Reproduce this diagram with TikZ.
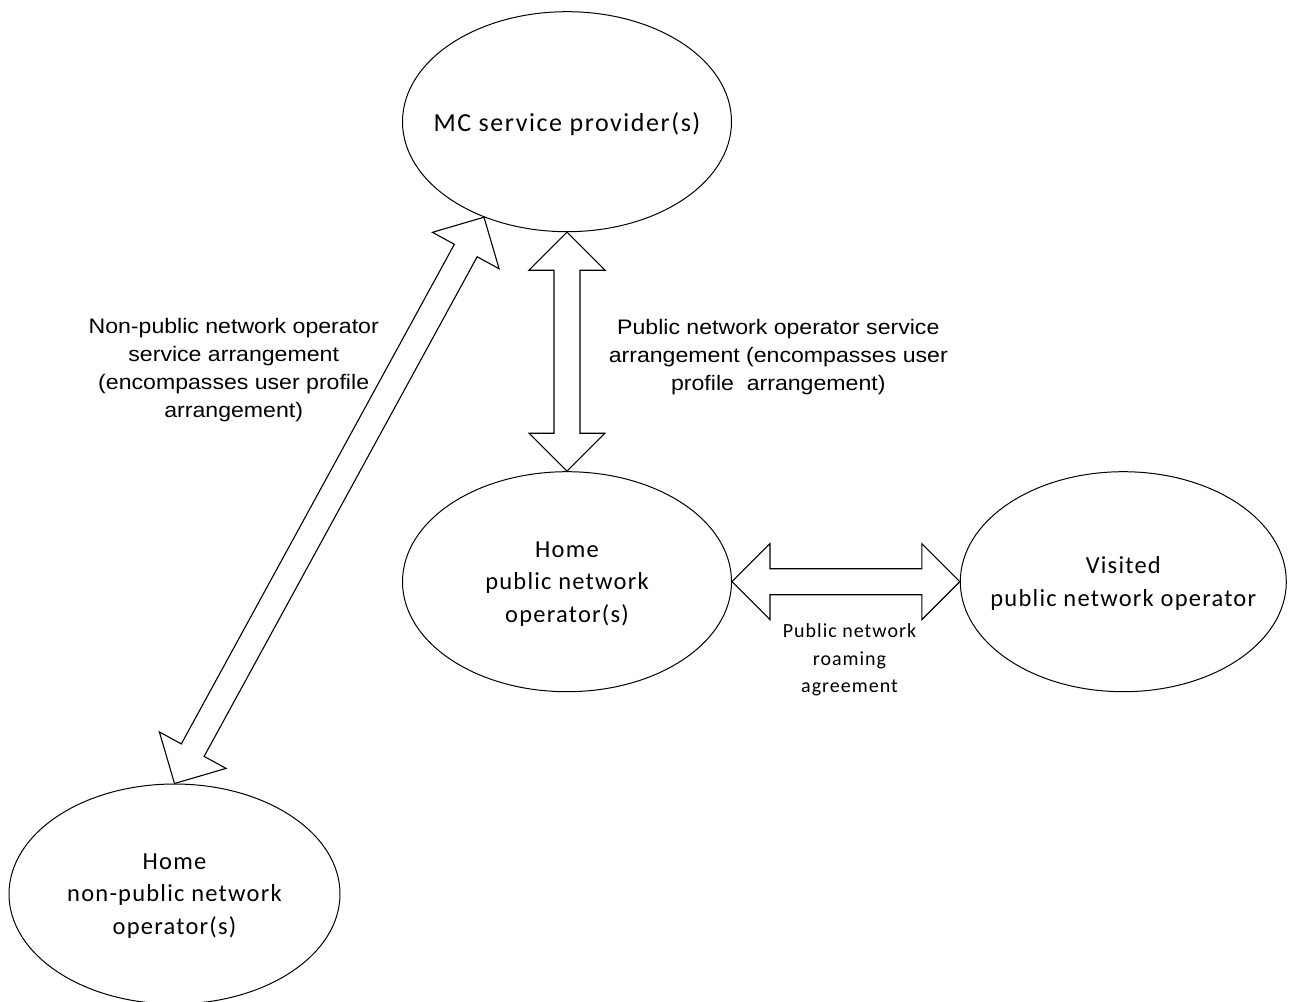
\documentclass[tikz,border=0pt]{standalone}
\usepackage{fontspec}
\usetikzlibrary{calc,shapes.geometric}
\newfontfamily\calfont{Carlito}[LetterSpace=5]
\newfontfamily\calfontw{Carlito}[LetterSpace=6]
\newfontfamily\arialfont{Liberation Sans}[FakeStretch=1.1]
\tikzset{
  ell/.style={ellipse, draw, line width=1pt, inner sep=0pt,
    minimum width=329pt, minimum height=220pt},
  elltext/.style={align=center, inner sep=0pt, yshift=-2pt,
    font=\calfont\fontsize{24.5}{32.5}\selectfont},
  fat/.style={draw, line width=1.1pt, line join=miter},
  lbl/.style={align=center, inner sep=0pt,
    font=\arialfont\fontsize{21}{28}\selectfont},
  smalllbl/.style={align=center, inner sep=0pt,
    font=\calfont\fontsize{20}{27.5}\selectfont},
}
\newcommand\fatarrow[2]{%
  \coordinate (A1) at ($(#1)!38pt!(#2)$);
  \coordinate (B1) at ($(#2)!38pt!(#1)$);
  \draw[fat] (#1) -- ($(A1)!38pt!90:(#2)$) -- ($(A1)!13pt!90:(#2)$)
    -- ($(B1)!13pt!-90:(#1)$) -- ($(B1)!38pt!-90:(#1)$) -- (#2)
    -- ($(B1)!38pt!90:(#1)$) -- ($(B1)!13pt!90:(#1)$)
    -- ($(A1)!13pt!-90:(#2)$) -- ($(A1)!38pt!-90:(#2)$) -- cycle;
}
\begin{document}
\begin{tikzpicture}[x=1pt,y=-1pt]
\useasboundingbox (0,0) rectangle (1289,1001);
\node[ell] (mc) at (567,121.7) {};
\node[ell] (home) at (567,581.7) {};
\node[ell, minimum width=326pt] (vis) at (1123.3,581.7) {};
\node[ell, minimum width=331pt] (np) at (174.5,894) {};
\node[elltext, font=\calfontw\fontsize{26}{32.5}\selectfont] (mct) at (mc.center) {MC service provider(s)};
\node[elltext] (homet) at (home.center) {Home\\public network\\operator(s)};
\node[elltext] (vist) at (vis.center) {Visited\\public network operator};
\node[elltext] (npt) at (np.center) {Home\\non-public network\\operator(s)};
\fatarrow{mc.south}{home.north}
\fatarrow{home.east}{vis.west}
\fatarrow{np.north}{mc.229}
\node[lbl] (npl) at (233.7,370) {Non-public network operator\\service arrangement\\(encompasses user profile\\arrangement)};
\node[lbl] (pl) at (778.3,357) {Public network operator service\\arrangement (encompasses user\\profile\ \ arrangement)};
\node[smalllbl] (rl) at (849.5,660) {Public network\\roaming\\agreement};
\end{tikzpicture}
\end{document}
